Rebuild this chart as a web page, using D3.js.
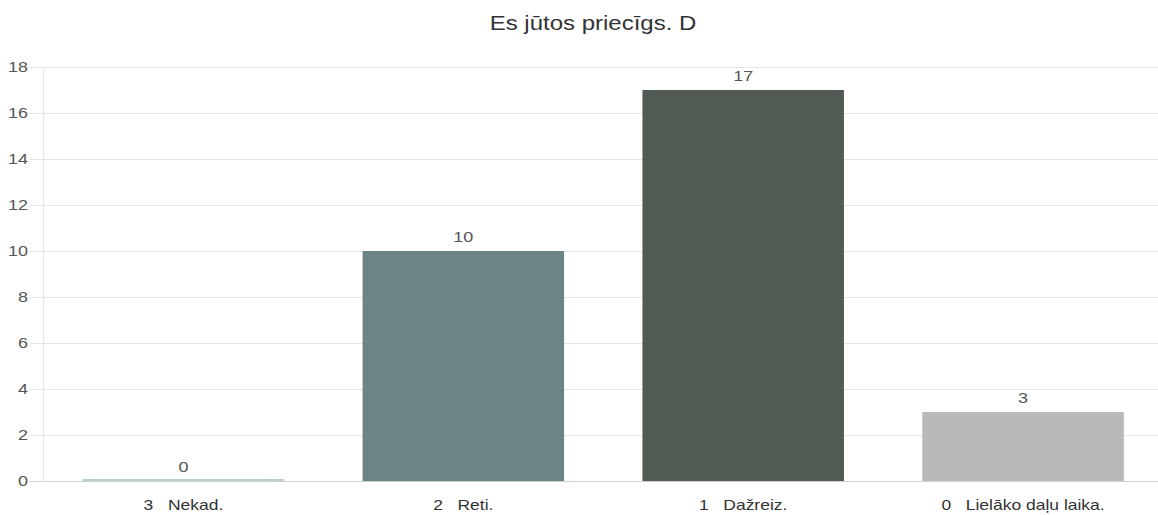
<!DOCTYPE html>
<html>
<head>
<meta charset="utf-8">
<script src="https://d3js.org/d3.v7.min.js"></script>
<style type="text/css">
body {margin:0;background:#fff;}
svg {display:block;font-family:"Liberation Sans", Arial, sans-serif;}
</style>
</head>
<body>
<svg id="chart" width="1158" height="515"></svg>
<script type="text/javascript">
var title = "Es jūtos priecīgs. D";
var categories = ["3   Nekad.", "2   Reti.", "1   Dažreiz.", "0   Lielāko daļu laika."];
var counts = [0, 10, 17, 3];
var barColors = ["#b7d0c8", "#6a8584", "#525b53", "#b9b9bb"];
var yTicks = [0, 2, 4, 6, 8, 10, 12, 14, 16, 18];

var svg = d3.select("#chart");
var plotL = 43.5, plotR = 1163, plotT = 67, plotB = 481;
var stretch = 1.2; // the picture's text is a bit wide

var x = d3.scaleBand().domain(categories).range([plotL, plotR]).paddingInner(0).paddingOuter(0);
var y = d3.scaleLinear().domain([0, 18]).range([plotB, plotT]);
var barW = x.bandwidth() * 0.72;

function place(px, py, s) {
	return "translate(" + px + "," + py + ") scale(" + (s || stretch) + ",1)";
}

svg.append("text")
	.attr("transform", place(593, 30))
	.attr("text-anchor", "middle")
	.attr("font-size", "20px")
	.attr("fill", "#333")
	.text(title);

// horizontal gridlines
var grid = svg.append("g").attr("class", "grid");
grid.selectAll("line").data(yTicks).enter().append("line")
	.attr("x1", plotL - 14).attr("x2", 1158)
	.attr("y1", function(d) { return Math.round(y(d)) + 0.5; })
	.attr("y2", function(d) { return Math.round(y(d)) + 0.5; })
	.attr("stroke", function(d) { return d == 0 ? "#d0d0d0" : "#e6e6e6"; });

// y axis line
svg.append("line")
	.attr("x1", plotL).attr("x2", plotL)
	.attr("y1", plotT).attr("y2", plotB + 1)
	.attr("stroke", "#e6e6e6");

// y tick labels
svg.selectAll("text.ylab").data(yTicks).enter().append("text")
	.attr("class", "ylab")
	.attr("transform", function(d) { return place(28, y(d) + 5); })
	.attr("text-anchor", "end")
	.attr("font-size", "15px")
	.attr("fill", "#555")
	.text(function(d) { return d; });

// bars
svg.selectAll("rect.bar").data(counts).enter().append("rect")
	.attr("class", "bar")
	.attr("x", function(d, i) { return x(categories[i]) + (x.bandwidth() - barW) / 2; })
	.attr("width", barW)
	.attr("y", function(d) { return d == 0 ? y(0) - 2 : y(d); })
	.attr("height", function(d) { return d == 0 ? 2 : y(0) - y(d); })
	.attr("fill", function(d, i) { return barColors[i]; });

// value labels
svg.selectAll("text.val").data(counts).enter().append("text")
	.attr("class", "val")
	.attr("transform", function(d, i) { return place(x(categories[i]) + x.bandwidth() / 2, y(d) - 9); })
	.attr("text-anchor", "middle")
	.attr("font-size", "15px")
	.attr("fill", "#555")
	.text(function(d) { return d; });

// category labels
svg.selectAll("text.cat").data(categories).enter().append("text")
	.attr("class", "cat")
	.attr("transform", function(d) { return place(x(d) + x.bandwidth() / 2, 510, 1.25); })
	.attr("text-anchor", "middle")
	.attr("font-size", "14px")
	.attr("fill", "#333")
	.style("white-space", "pre")
	.text(function(d) { return d; });
</script>
</body>
</html>
